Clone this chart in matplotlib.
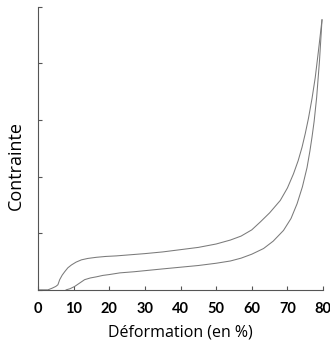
import matplotlib.pyplot as plt

# loading curve (upper)
charge_x = [0, 2.8, 4.0, 5.0, 5.6, 6.1, 6.8, 7.5, 8.4, 9.4, 10.7, 12.2, 14, 16.4, 19, 22,
            26, 30, 35, 40, 45, 50, 54, 57, 60, 62.4, 65, 68, 70, 71.7, 73, 74.1,
            75, 75.9, 76.9, 77.8, 78.7, 79.7]
charge_y = [0, 0, 0.03, 0.06, 0.09, 0.18, 0.26, 0.32, 0.39, 0.44, 0.49, 0.53, 0.555, 0.575, 0.59, 0.60,
            0.62, 0.64, 0.67, 0.71, 0.75, 0.81, 0.88, 0.95, 1.06, 1.2, 1.36, 1.58, 1.8, 2.05, 2.28, 2.52,
            2.76, 3.03, 3.38, 3.75, 4.22, 4.77]

# unloading curve (lower)
decharge_x = [7.9, 9.0, 10.3, 11.7, 13.1, 14.7, 16.4, 18.2, 20, 23, 27, 31, 35, 40, 45, 50,
              54, 57, 60, 63.3, 66, 68.9, 71, 72.7, 74.2, 75.5, 76.3, 76.9, 77.5, 78.2, 79, 79.7]
decharge_y = [0, 0.02, 0.06, 0.12, 0.18, 0.21, 0.23, 0.255, 0.27, 0.30, 0.32, 0.345, 0.37, 0.40, 0.43, 0.47,
              0.51, 0.56, 0.63, 0.73, 0.86, 1.05, 1.26, 1.52, 1.82, 2.16, 2.45, 2.7, 2.98, 3.4, 4.05, 4.77]

xticks = [0, 10, 20, 30, 40, 50, 60, 70, 80]

fig = plt.figure(figsize=(3.3, 3.41), dpi=100)
ax = fig.add_axes([0.115, 0.15, 0.864, 0.83])

col = "#7a7a7a"
ax.plot(charge_x, charge_y, color=col, lw=0.75)
ax.plot(decharge_x, decharge_y, color=col, lw=0.75)

ax.set_xlim(0, 80)
ax.set_ylim(0, 5)
ax.set_xticks(xticks)
ax.set_xticklabels([str(t) for t in xticks], fontfamily="Lato", fontweight="bold", fontsize=10.5)
ax.set_yticks([0, 1, 2, 3, 4, 5])
ax.set_yticklabels([])
ax.tick_params(direction="in", length=3, color="#555555", width=0.8, pad=9)

for s in ["top", "right"]:
    ax.spines[s].set_visible(False)
for s in ["left", "bottom"]:
    ax.spines[s].set_color("#555555")
    ax.spines[s].set_linewidth(0.8)

ax.set_xlabel("Déformation (en %)", fontfamily="Open Sans", fontsize=11.5, labelpad=6)
ax.set_ylabel("Contrainte", fontfamily="Open Sans", fontsize=13)
ax.yaxis.set_label_coords(-0.045, 0.44)

fig.savefig("out.png", dpi=100)
